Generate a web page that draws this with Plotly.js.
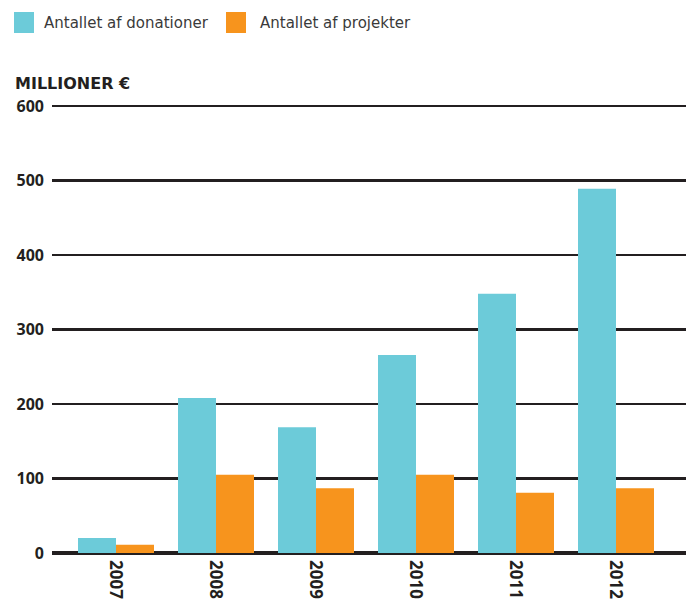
<!DOCTYPE html>
<html>
<head>
<meta charset="utf-8">
<script src="https://cdn.plot.ly/plotly-3.0.1.min.js"></script>
<style>html,body{margin:0;padding:0;background:#fff;}</style>
</head>
<body>
<div id="chart" style="width:686px;height:600px;"></div>
<script>
const years = ["2007", "2008", "2009", "2010", "2011", "2012"];
const donationer = [20, 208, 169, 266, 348, 489];
const projekter = [11, 105, 87, 105, 81, 87];
const seriesNames = ["Antallet af donationer", "Antallet af projekter"];
const seriesColors = ["#6ccbd9", "#f7941d"];
const yTicks = [0, 100, 200, 300, 400, 500, 600];
const yTitle = "MILLIONER €";

const ink = "#231f20";
const font = "Open Sans, DejaVu Sans, sans-serif";

const traces = [
  {type: "bar", x: years, y: donationer, name: seriesNames[0],
   marker: {color: seriesColors[0]}, showlegend: false},
  {type: "bar", x: years, y: projekter, name: seriesNames[1],
   marker: {color: seriesColors[1]}, showlegend: false}
];

// legend drawn as swatches + labels (paper coordinates)
const legendY0 = 1.1607, legendY1 = 1.2076, legendYc = 1.184;
const swatchX = [[-0.0599, -0.0284], [0.2744, 0.3060]];
const labelX = [-0.0158, 0.3249];

const shapes = seriesNames.map((n, i) => ({
  type: "rect", xref: "paper", yref: "paper",
  x0: swatchX[i][0], x1: swatchX[i][1], y0: legendY0, y1: legendY1,
  fillcolor: seriesColors[i], line: {width: 0}
}));

const annotations = seriesNames.map((n, i) => ({
  text: n, xref: "paper", yref: "paper", x: labelX[i], y: legendYc,
  xanchor: "left", yanchor: "middle", showarrow: false,
  font: {size: 15, color: "#3a3a3a", family: "DejaVu Sans, sans-serif"}
}));
annotations.push({
  text: "<b>" + yTitle + "</b>", xref: "paper", yref: "paper",
  x: -0.0615, y: 1.047, xanchor: "left", yanchor: "middle", showarrow: false,
  font: {size: 16, color: ink, family: "DejaVu Sans, sans-serif"}
});

const layout = {
  width: 686, height: 600,
  margin: {l: 52, r: 0, t: 105, b: 47, pad: 0},
  paper_bgcolor: "#fff", plot_bgcolor: "#fff",
  font: {family: font, color: ink},
  barmode: "group", bargap: 0.24, bargroupgap: 0,
  showlegend: false,
  xaxis: {type: "category", range: [-0.64, 5.7], showgrid: false, showline: false,
          ticks: "", tickangle: 90, tickfont: {size: 17, color: ink, family: font, weight: "bold"},
          ticklabelstandoff: 6, fixedrange: true},
  yaxis: {range: [0, 601.5], tickvals: yTicks, showgrid: true, gridcolor: ink, gridwidth: 2.7,
          zeroline: true, zerolinecolor: ink, zerolinewidth: 3.2, showline: false, ticks: "",
          tickfont: {size: 16, color: ink, family: font, weight: "bold"},
          ticklabelstandoff: 7, fixedrange: true},
  shapes: shapes,
  annotations: annotations
};

Plotly.newPlot("chart", traces, layout, {displayModeBar: false, staticPlot: true});
</script>
</body>
</html>
